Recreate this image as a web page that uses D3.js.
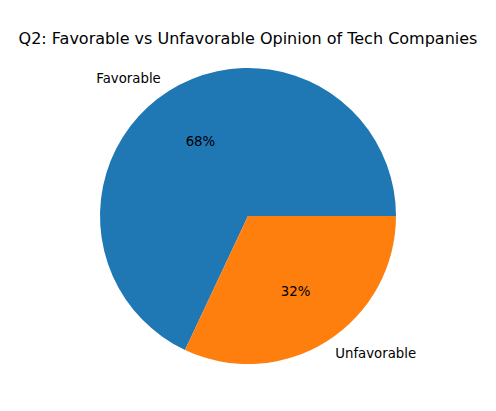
<!DOCTYPE html>
<html><head><meta charset="utf-8">
<script src="https://cdn.jsdelivr.net/npm/d3@7"></script>
<style>body{margin:0;background:#fff}</style></head>
<body><svg id="c" width="496" height="411"></svg>
<script>
const categories = ["Favorable", "Unfavorable"];
const values = [68, 32];
const colors = ["#1f77b4", "#ff7f0e"];
const title = "Q2: Favorable vs Unfavorable Opinion of Tech Companies";

const svg = d3.select("#c");
const cx = 248, cy = 216, r = 148;
const font = "DejaVu Sans, sans-serif";
svg.append("text").attr("x", cx).attr("y", 44).attr("text-anchor", "middle")
  .attr("font-family", font).attr("font-size", 16).text(title);

const pie = d3.pie().sort(null).startAngle(Math.PI/2).endAngle(Math.PI/2 - 2*Math.PI);
const arcs = pie(values);
const arc = d3.arc().innerRadius(0).outerRadius(r);
const g = svg.append("g").attr("transform", `translate(${cx},${cy})`);
g.selectAll("path").data(arcs).join("path").attr("d", arc).attr("fill", (d,i)=>colors[i]);

const total = d3.sum(values);
arcs.forEach((d,i)=>{
  const a = (d.startAngle + d.endAngle)/2;
  const sx = Math.sin(a), sy = -Math.cos(a);
  g.append("text").attr("x", 1.1*r*sx).attr("y", 1.1*r*sy).attr("dy", "0.35em")
    .attr("text-anchor", sx < 0 ? "end" : "start")
    .attr("font-family", font).attr("font-size", 13.3).text(categories[i]);
  g.append("text").attr("x", 0.6*r*sx).attr("y", 0.6*r*sy).attr("dy", "0.35em")
    .attr("text-anchor", "middle")
    .attr("font-family", font).attr("font-size", 13.3).text(Math.round(values[i]/total*100) + "%");
});
</script></body></html>
